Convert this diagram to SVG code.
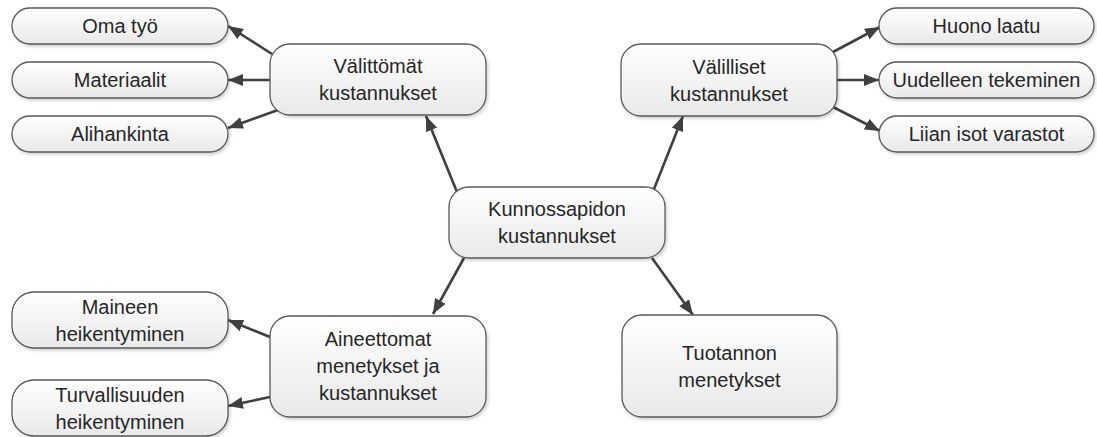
<svg xmlns="http://www.w3.org/2000/svg" width="1097" height="437" viewBox="0 0 1097 437">
<defs>
<linearGradient id="g" x1="0" y1="0" x2="0" y2="1">
<stop offset="0" stop-color="#ffffff"/>
<stop offset="1" stop-color="#e9e9e9"/>
</linearGradient>
<filter id="sh" x="-10%" y="-20%" width="120%" height="150%">
<feDropShadow dx="1.5" dy="2" stdDeviation="1.5" flood-color="#000" flood-opacity="0.18"/>
</filter>
<marker id="ah" markerUnits="userSpaceOnUse" markerWidth="16" markerHeight="12" refX="15" refY="6" orient="auto">
<path d="M0,0 L15,6 L0,12 z" fill="#404040"/>
</marker>
<style>
.box{fill:url(#g);stroke:#5a5a5a;stroke-width:1.3;filter:url(#sh)}
.t{font-family:"Liberation Sans",Arial,sans-serif;font-size:20px;fill:#262626;text-anchor:middle}
.c{stroke:#404040;stroke-width:2.6;fill:none;marker-end:url(#ah)}
</style>
</defs>
<rect width="1097" height="437" fill="#ffffff"/>
<g id="connectors">
<line class="c" x1="272" y1="54" x2="228" y2="26"/>
<line class="c" x1="270" y1="80" x2="228" y2="80"/>
<line class="c" x1="278" y1="110" x2="228" y2="128"/>
<line class="c" x1="457" y1="192" x2="426" y2="116"/>
<line class="c" x1="654" y1="189" x2="683" y2="116"/>
<line class="c" x1="464" y1="258" x2="433" y2="314"/>
<line class="c" x1="652" y1="258" x2="693" y2="315"/>
<line class="c" x1="833" y1="52" x2="880" y2="27"/>
<line class="c" x1="837" y1="80" x2="879" y2="80"/>
<line class="c" x1="833" y1="107" x2="880" y2="131"/>
<line class="c" x1="270" y1="337" x2="228" y2="320"/>
<line class="c" x1="270" y1="397" x2="228" y2="406"/>
</g>
<g id="omatyo"><rect class="box" x="12" y="8" width="216" height="36" rx="18"/><text class="t" x="120" y="33">Oma työ</text></g>
<g id="materiaalit"><rect class="box" x="12" y="62" width="216" height="36" rx="18"/><text class="t" x="120" y="87">Materiaalit</text></g>
<g id="alihankinta"><rect class="box" x="12" y="116" width="216" height="36" rx="18"/><text class="t" x="120" y="141">Alihankinta</text></g>
<g id="valittomat"><rect class="box" x="270" y="44" width="216" height="71" rx="20"/><text class="t" x="378" y="73">Välittömät</text><text class="t" x="378" y="100">kustannukset</text></g>
<g id="valilliset"><rect class="box" x="621" y="44" width="216" height="72" rx="20"/><text class="t" x="729" y="73.5">Välilliset</text><text class="t" x="729" y="100.5">kustannukset</text></g>
<g id="huonolaatu"><rect class="box" x="879" y="8" width="215" height="36" rx="18"/><text class="t" x="986.5" y="33">Huono laatu</text></g>
<g id="uudelleen"><rect class="box" x="879" y="62" width="215" height="36" rx="18"/><text class="t" x="986.5" y="87">Uudelleen tekeminen</text></g>
<g id="liian"><rect class="box" x="879" y="116" width="215" height="36" rx="18"/><text class="t" x="986.5" y="141">Liian isot varastot</text></g>
<g id="kunnossapidon"><rect class="box" x="449" y="187" width="216" height="71" rx="20"/><text class="t" x="557" y="216">Kunnossapidon</text><text class="t" x="557" y="243">kustannukset</text></g>
<g id="aineettomat"><rect class="box" x="270" y="316" width="216" height="101" rx="20"/><text class="t" x="378" y="346">Aineettomat</text><text class="t" x="378" y="373">menetykset ja</text><text class="t" x="378" y="400">kustannukset</text></g>
<g id="tuotannon"><rect class="box" x="622" y="315" width="215" height="102" rx="20"/><text class="t" x="729.5" y="359.5">Tuotannon</text><text class="t" x="729.5" y="386.5">menetykset</text></g>
<g id="maineen"><rect class="box" x="12" y="292" width="216" height="56" rx="22"/><text class="t" x="120" y="313.5">Maineen</text><text class="t" x="120" y="340.5">heikentyminen</text></g>
<g id="turvallisuuden"><rect class="box" x="12" y="380" width="216" height="56" rx="22"/><text class="t" x="120" y="401.5">Turvallisuuden</text><text class="t" x="120" y="428.5">heikentyminen</text></g>
</svg>
